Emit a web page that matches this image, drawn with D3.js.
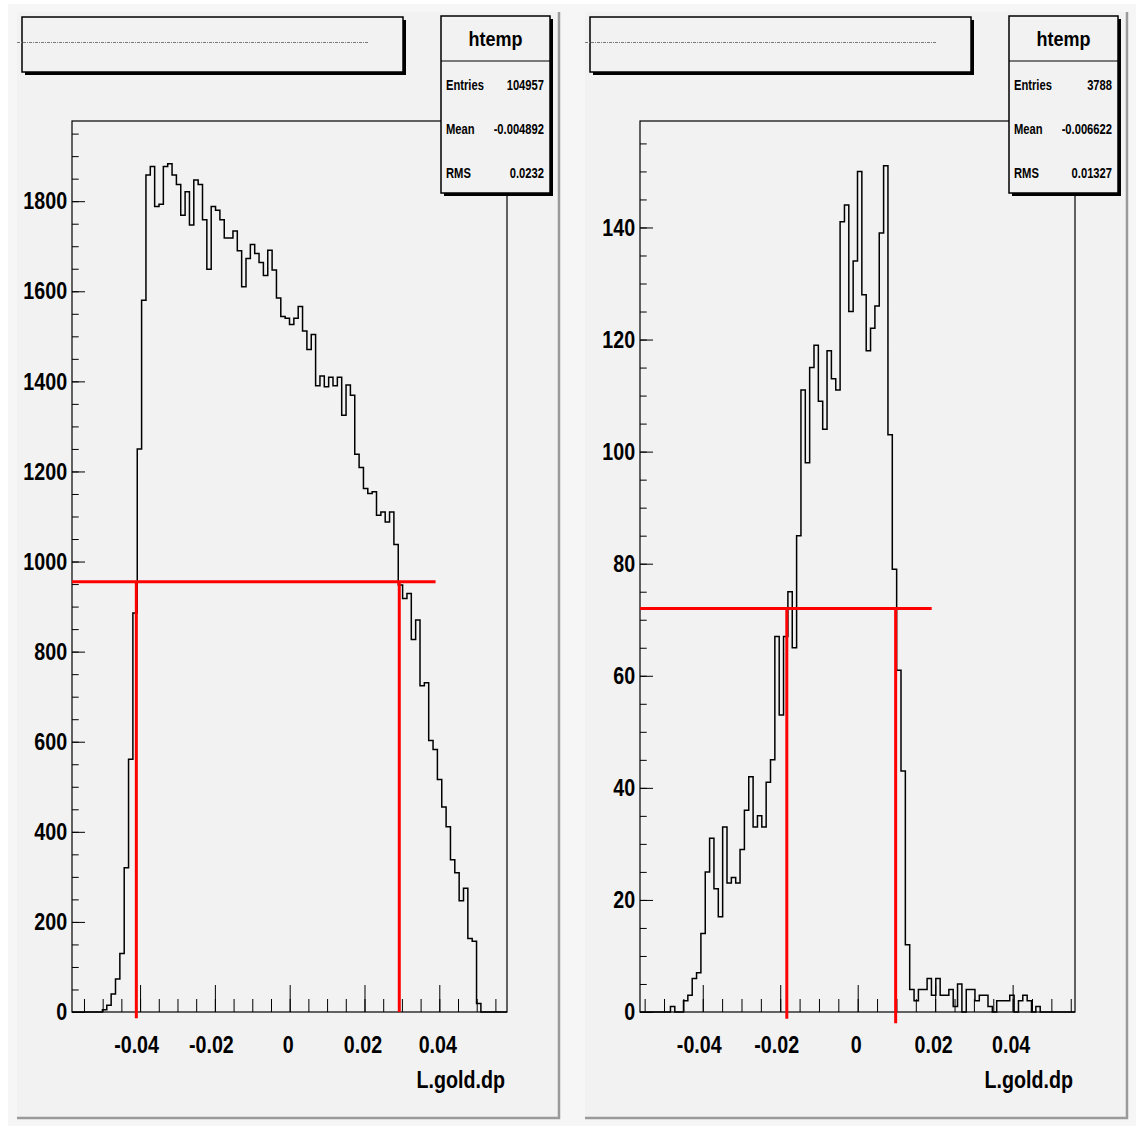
<!DOCTYPE html>
<html>
<head>
<meta charset="utf-8">
<script src="https://cdn.jsdelivr.net/npm/d3@7"></script>
<style>
  body { margin: 0; background: #ffffff; }
  text { font-family: "Liberation Sans", Arial, sans-serif; font-weight: bold; }
</style>
</head>
<body>
<div id="canvas"></div>
<script>
// bin contents of the two htemp histograms (100 bins each)
var leftCounts = [0, 0, 0, 0, 0, 0, 0, 5, 15, 40,
  73, 130, 320, 561, 886, 1250, 1580, 1858, 1877, 1788,
  1793, 1877, 1883, 1858, 1837, 1769, 1821, 1747, 1847, 1837,
  1759, 1649, 1788, 1780, 1759, 1718, 1718, 1734, 1690, 1610,
  1673, 1704, 1684, 1664, 1635, 1691, 1647, 1585, 1544, 1540,
  1526, 1540, 1566, 1512, 1471, 1504, 1390, 1412, 1388, 1409,
  1390, 1409, 1325, 1392, 1369, 1238, 1209, 1162, 1151, 1155,
  1103, 1110, 1088, 1110, 1038, 948, 918, 929, 827, 870,
  724, 731, 603, 583, 516, 455, 411, 338, 309, 247,
  275, 163, 157, 19, 0, 0, 0, 0, 0, 0];

var rightCounts = [0, 0, 0, 0, 0, 0, 0, 1, 0, 0,
  2, 3, 6, 7, 14, 25, 31, 22, 17, 33,
  23, 24, 23, 29, 36, 42, 33, 35, 33, 41,
  45, 67, 53, 67, 75, 65, 85, 111, 98, 115,
  119, 109, 104, 118, 113, 111, 141, 144, 125, 134,
  150, 128, 118, 122, 126, 139, 151, 103, 79, 61,
  43, 12, 4, 2, 4, 4, 6, 3, 6, 3,
  3, 4, 1, 5, 0, 4, 4, 2, 3, 3,
  1, 0, 2, 2, 2, 3, 0, 2, 3, 2,
  0, 1, 0, 0, 0, 0, 0, 0, 0, 0];

// histogram limits (x) and frame maximum (y)
var leftXRange = [-0.0582, 0.0581];
var rightXRange = [-0.0562, 0.0561];
var leftYMax = 1978;
var rightYMax = 159;

// tick labels
var xTicks = [-0.04, -0.02, 0, 0.02, 0.04];
var leftYTicks = [0, 200, 400, 600, 800, 1000, 1200, 1400, 1600, 1800];
var rightYTicks = [0, 20, 40, 60, 80, 100, 120, 140];
var xTitle = "L.gold.dp";

// stats boxes
var statsTitle = "htemp";
var statNames = ["Entries", "Mean", "RMS"];
var leftStats = ["104957", "-0.004892", "0.0232"];
var rightStats = ["3788", "-0.006622", "0.01327"];

// red cut lines [x1, y1, x2, y2] in histogram units
var leftCuts = [[-0.0582, 955, 0.039, 955], [-0.041, 955, -0.041, -14], [0.0293, 955, 0.0293, 0]];
var rightCuts = [[-0.0562, 72, 0.0191, 72], [-0.0183, 72, -0.0183, -1.2], [0.0098, 72, 0.0098, -2]];

// layout of one pad (the right pad is the same, shifted)
var frame = { left: 72, top: 121, right: 507, bottom: 1012 };
var padOffset = 568;
var textSqueeze = 0.82;

var svg = d3.select("#canvas")
  .append("svg")
  .attr("width", 1142)
  .attr("height", 1128);

svg.append("rect")
  .attr("x", 8).attr("y", 4)
  .attr("width", 1128).attr("height", 1122)
  .attr("fill", "#f6f6f6");

function squeezedText(g, x, y, str, size, anchor, sx) {
  return g.append("text")
    .attr("transform", "translate(" + x + "," + y + ") scale(" + sx + ",1)")
    .attr("font-size", size)
    .attr("text-anchor", anchor)
    .attr("fill", "#000")
    .text(str);
}

function drawPad(ox, counts, xRange, yMax, yTicks, yMinorStep, stats, cuts) {
  var g = svg.append("g").attr("transform", "translate(" + ox + ",0)");

  // pad background with bevel
  g.append("rect")
    .attr("x", 17).attr("y", 12)
    .attr("width", 542).attr("height", 1106)
    .attr("fill", "#f2f2f2");
  g.append("path")
    .attr("d", "M559,12 L559,1118 L17,1118")
    .attr("fill", "none")
    .attr("stroke", "#9a9a9a")
    .attr("stroke-width", 2.5);

  var x = d3.scaleLinear().domain(xRange).range([frame.left, frame.right]);
  var y = d3.scaleLinear().domain([0, yMax]).range([frame.bottom, frame.top]);

  // histogram outline
  var binW = (xRange[1] - xRange[0]) / counts.length;
  var pts = counts.map(function(c, i) { return [xRange[0] + i * binW, c]; });
  pts.push([xRange[1], counts[counts.length - 1]]);
  var line = d3.line()
    .x(function(d) { return x(d[0]); })
    .y(function(d) { return y(d[1]); })
    .curve(d3.curveStepAfter);
  g.append("path")
    .datum(pts)
    .attr("d", line)
    .attr("fill", "none")
    .attr("stroke", "#000")
    .attr("stroke-width", 1.5);

  // y axis, ticks pointing into the frame
  var yMinor = d3.range(0, yMax, yMinorStep);
  g.append("g")
    .attr("transform", "translate(" + frame.left + ",0)")
    .call(d3.axisLeft(y).tickValues(yMinor).tickSize(-6.7).tickFormat(""))
    .call(function(a) { a.select(".domain").remove(); });
  var yAxis = g.append("g")
    .attr("transform", "translate(" + frame.left + ",0)")
    .call(d3.axisLeft(y).tickValues(yTicks).tickSize(-13).tickPadding(6).tickFormat(function(d) { return String(d); }));
  yAxis.select(".domain").remove();
  yAxis.selectAll("text")
    .attr("font-size", 24)
    .attr("fill", "#000")
    .attr("transform", "scale(" + textSqueeze + ",1)");

  // x axis
  var xMinor = d3.range(-0.055, 0.0551, 0.005);
  g.append("g")
    .attr("transform", "translate(0," + frame.bottom + ")")
    .call(d3.axisBottom(x).tickValues(xMinor).tickSize(-13).tickFormat(""))
    .call(function(a) { a.select(".domain").remove(); });
  var xAxis = g.append("g")
    .attr("transform", "translate(0," + frame.bottom + ")")
    .call(d3.axisBottom(x).tickValues(xTicks).tickSize(-27).tickPadding(24).tickFormat(function(d) { return String(d); }));
  xAxis.select(".domain").remove();
  // ROOT centres the labels a little to the left of the tick
  xAxis.selectAll("text")
    .attr("font-size", 24)
    .attr("fill", "#000")
    .attr("x", function(d) { return (d < 0 ? -4 : -2) / textSqueeze; })
    .attr("transform", "scale(" + textSqueeze + ",1)");

  squeezedText(g, frame.right - 2, 1088, xTitle, 24, "end", textSqueeze);

  // frame
  g.append("rect")
    .attr("x", frame.left).attr("y", frame.top)
    .attr("width", frame.right - frame.left)
    .attr("height", frame.bottom - frame.top)
    .attr("fill", "none")
    .attr("stroke", "#000")
    .attr("stroke-width", 1.2);

  // red cut lines
  g.selectAll(".cut")
    .data(cuts)
    .enter()
    .append("line")
    .attr("class", "cut")
    .attr("x1", function(d) { return x(d[0]); })
    .attr("y1", function(d) { return y(d[1]); })
    .attr("x2", function(d) { return x(d[2]); })
    .attr("y2", function(d) { return y(d[3]); })
    .attr("stroke", "#ff0000")
    .attr("stroke-width", 3);

  // title box (title is unreadably tiny, drawn as a dotted trace)
  g.append("rect")
    .attr("x", 25).attr("y", 20).attr("width", 381).attr("height", 55)
    .attr("fill", "#000");
  g.append("rect")
    .attr("x", 22).attr("y", 17).attr("width", 381).attr("height", 55)
    .attr("fill", "#f2f2f2").attr("stroke", "#000").attr("stroke-width", 1.5);
  g.append("line")
    .attr("x1", 17).attr("x2", 368).attr("y1", 42.5).attr("y2", 42.5)
    .attr("stroke", "#7a7a7a").attr("stroke-width", 1)
    .attr("stroke-dasharray", "3,1,1,1");

  // stats box
  g.append("rect")
    .attr("x", 444).attr("y", 19).attr("width", 109).attr("height", 177)
    .attr("fill", "#000");
  g.append("rect")
    .attr("x", 441).attr("y", 16).attr("width", 109).attr("height", 177)
    .attr("fill", "#f2f2f2").attr("stroke", "#000").attr("stroke-width", 1.5);
  g.append("line")
    .attr("x1", 441).attr("x2", 550).attr("y1", 61).attr("y2", 61)
    .attr("stroke", "#000").attr("stroke-width", 1.2);
  squeezedText(g, 495.5, 46, statsTitle, 20, "middle", 0.9);
  statNames.forEach(function(name, i) {
    var rowY = 90 + i * 44;
    squeezedText(g, 446, rowY, name, 14, "start", 0.8);
    squeezedText(g, 544, rowY, stats[i], 14, "end", 0.8);
  });
}

drawPad(0, leftCounts, leftXRange, leftYMax, leftYTicks, 50, leftStats, leftCuts);
drawPad(padOffset, rightCounts, rightXRange, rightYMax, rightYTicks, 5, rightStats, rightCuts);
</script>
</body>
</html>
